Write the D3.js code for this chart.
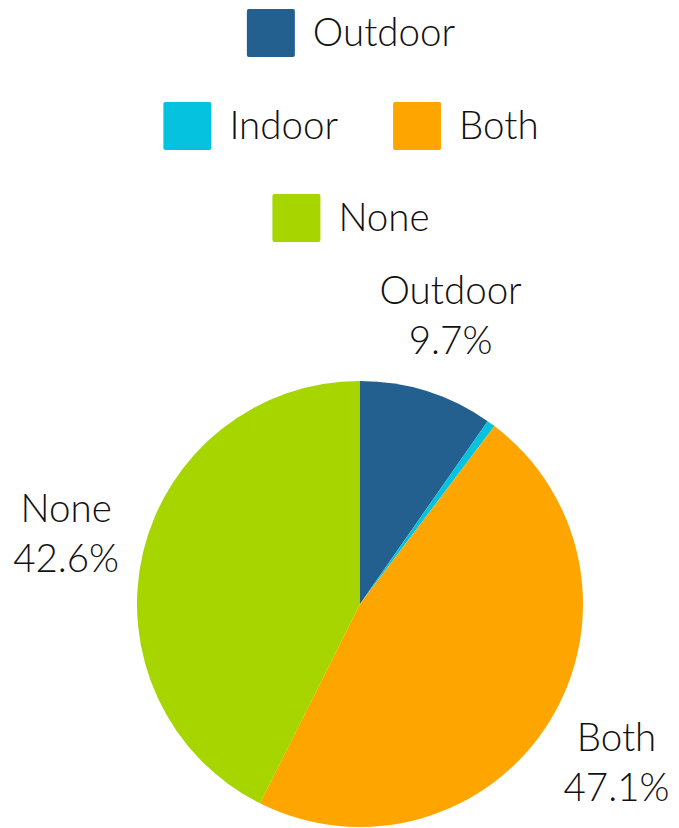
<!DOCTYPE html>
<html><head><meta charset="utf-8">
<script src="https://cdn.jsdelivr.net/npm/d3@7"></script>
<style>html,body{margin:0;padding:0;background:#fff;}svg{display:block;}</style>
</head><body>
<svg id="c" width="679" height="828"></svg>
<script>
const categories = ["Outdoor", "Indoor", "Both", "None"];
const values = [9.7, 0.6, 47.1, 42.6];
const colors = ["#235F8F", "#05C3DF", "#FFA500", "#A6D500"];

const FONT = "Lato, 'Open Sans', sans-serif";
const FS = 38.5;
const FW = 300;
const svg = d3.select("#c");

// legend rows
const legendRows = [[0], [1, 2], [3]];
const rowY = [9, 102, 194];
const legendCenter = 351;
const sw = 48, gap = 18, itemGap = 55;
legendRows.forEach((row, ri) => {
  const g = svg.append("g");
  let x = 0;
  row.forEach((ci, k) => {
    const it = g.append("g").attr("transform", `translate(${x},0)`);
    it.append("rect").attr("width", sw).attr("height", sw).attr("rx", 2).attr("fill", colors[ci]);
    const t = it.append("text").attr("x", sw + gap).attr("y", sw / 2).attr("dy", "0.35em")
      .attr("font-family", FONT).attr("font-size", FS).attr("font-weight", FW).attr("fill", "#111").text(categories[ci]);
    x += sw + gap + t.node().getComputedTextLength() + itemGap;
  });
  const w = x - itemGap;
  g.attr("transform", `translate(${legendCenter - w / 2},${rowY[ri]})`);
});

// pie
const cx = 360, cy = 604, r = 223, lr = 302;
const pie = d3.pie().sort(null).value(d => d)(values);
const arc = d3.arc().innerRadius(0).outerRadius(r);
const pg = svg.append("g").attr("transform", `translate(${cx},${cy})`);
pg.selectAll("path").data(pie).join("path").attr("d", arc).attr("fill", (d, i) => colors[i]);

const labelArc = d3.arc().innerRadius(lr).outerRadius(lr);
pie.forEach((d, i) => {
  if (i === 1) return;
  const [x, y] = labelArc.centroid(d);
  const t = pg.append("text").attr("text-anchor", "middle")
    .attr("font-family", FONT).attr("font-size", FS).attr("font-weight", FW).attr("fill", "#111");
  t.append("tspan").attr("x", x).attr("y", y - 12).text(categories[i]);
  t.append("tspan").attr("x", x).attr("y", y + 38).text(d3.format(".1f")(values[i]) + "%");
});
</script>
</body></html>
